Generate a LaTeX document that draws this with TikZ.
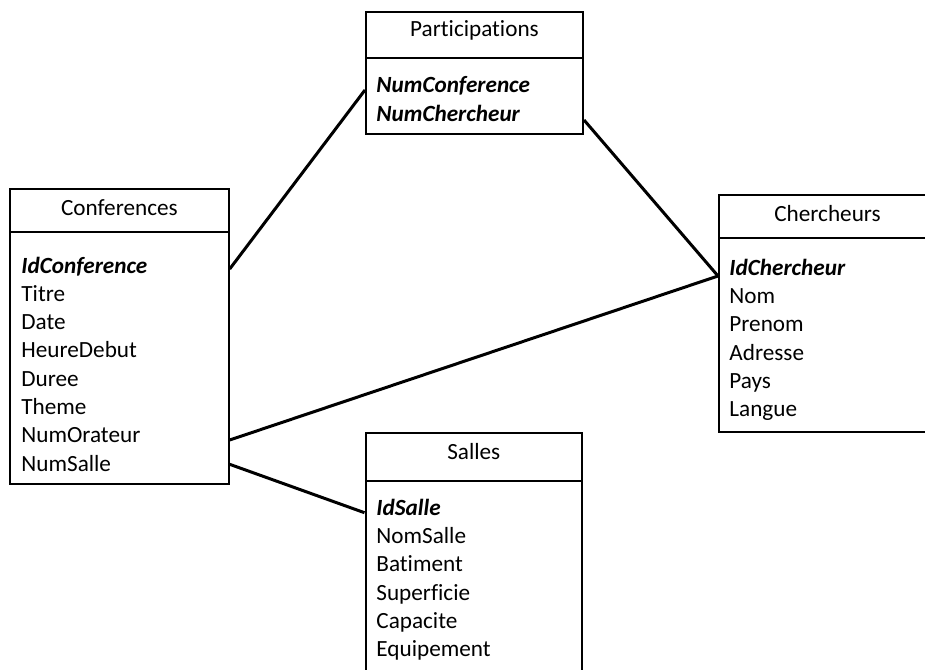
\documentclass[tikz,border=0pt]{standalone}
\usepackage{fontspec}
\setmainfont{Carlito}[Ligatures=NoCommon]
\usetikzlibrary{fit}

\begin{document}
\begin{tikzpicture}[x=.5pt, y=-.5pt, font=\fontsize{11.6pt}{14pt}\selectfont,
        box/.style = {draw, line width=1pt, inner sep=0pt},
        title/.style = {anchor=base, inner sep=0pt},
        attr/.style = {anchor=base west, inner sep=0pt},
        key/.style = {attr, font=\fontsize{11.6pt}{14pt}\selectfont\bfseries\itshape},
        link/.style = {line width=1.5pt}]
        \path[use as bounding box, clip] (0,0) rectangle (925,669);

        % Conferences
        \node[box, fit={(10,189) (228.7,231.7)}] (conf) {};
        \node[box, fit={(10,231.7) (228.7,484.3)}] (confbody) {};
        \node[title] (confT) at (119.4,215.7) {Conferences};
        \node[key] (confId) at (21,273) {IdConference};
        \node[attr] (confTitre) at (21,301.3) {Titre};
        \node[attr] (confDate) at (21,329.6) {Date};
        \node[attr] (confHeure) at (21,357.9) {HeureDebut};
        \node[attr] (confDuree) at (21,386.2) {Duree};
        \node[attr] (confTheme) at (21,414.5) {Theme};
        \node[attr] (confOrateur) at (21,442.8) {NumOrateur};
        \node[attr] (confSalle) at (21,471.1) {NumSalle};

        % Participations
        \node[box, fit={(366,11.7) (583,58)}] (part) {};
        \node[box, fit={(366,58) (583,133.5)}] (partbody) {};
        \node[title] (partT) at (474.5,36) {Participations};
        \node[key] (partConf) at (376,92.7) {NumConference};
        \node[key] (partCher) at (376,121) {NumChercheur};

        % Chercheurs
        \node[box, fit={(719,195) (936,238)}] (cher) {};
        \node[box, fit={(719,238) (936,431.7)}] (cherbody) {};
        \node[title] (cherT) at (827.5,221) {Chercheurs};
        \node[key] (cherId) at (729,275.2) {IdChercheur};
        \node[attr] (cherNom) at (729,303.5) {Nom};
        \node[attr] (cherPrenom) at (729,331.8) {Prenom};
        \node[attr] (cherAdresse) at (729,360.1) {Adresse};
        \node[attr] (cherPays) at (729,388.4) {Pays};
        \node[attr] (cherLangue) at (729,416.7) {Langue};

        % Salles
        \node[box, fit={(365.5,432.7) (582,481)}] (salle) {};
        \node[box, fit={(365.5,481) (582,700)}] (sallebody) {};
        \node[title] (salleT) at (473.8,459) {Salles};
        \node[key] (salleId) at (376,515.2) {IdSalle};
        \node[attr] (salleNom) at (376,543.5) {NomSalle};
        \node[attr] (salleBat) at (376,571.8) {Batiment};
        \node[attr] (salleSup) at (376,600.1) {Superficie};
        \node[attr] (salleCap) at (376,628.4) {Capacite};
        \node[attr] (salleEquip) at (376,656.7) {Equipement};

        \draw[link] (confbody.east |- 0,269) -- (partbody.west |- 0,90);
        \draw[link] (partbody.east |- 0,120) -- (cherbody.west |- 0,276);
        \draw[link] (confbody.east |- 0,440) -- (cherbody.west |- 0,276);
        \draw[link] (confbody.east |- 0,464.3) -- (sallebody.west |- 0,512.7);
    \end{tikzpicture}
\end{document}
